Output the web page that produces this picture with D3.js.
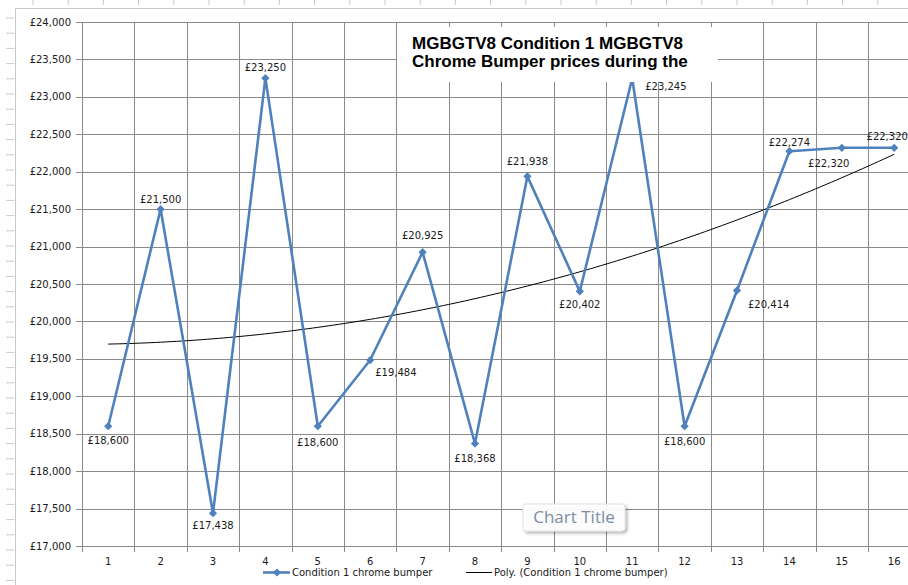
<!DOCTYPE html>
<html lang="en">
  <head>
    <meta charset="UTF-8" />
    <title>MGBGTV8 Chrome Bumper prices</title>
    <script src="https://d3js.org/d3.v7.min.js"></script>
    <style>
      body { margin: 0; background: #fff; }
      .tick-label, .data-label, .legend-text {
        font-family: "DejaVu Sans", Verdana, sans-serif;
        font-size: 10px;
        fill: #1a1a1a;
      }
      .title {
        font-family: "Liberation Sans", Arial, sans-serif;
        font-weight: bold;
        font-size: 17px;
        fill: #000;
      }
      .ghost-title {
        font-family: "Open Sans", "Noto Sans", sans-serif;
        font-size: 17px;
        fill: #7d8ca3;
      }
    </style>
  </head>
  <body>
    <svg width="908" height="585"></svg>
    <script>
      // data
      const categories = d3.range(1, 17);
      const prices = [18600, 21500, 17438, 23250, 18600, 19484, 20925, 18368,
                      21938, 20402, 23245, 18600, 20414, 22274, 22320, 22320];
      const yTicks = d3.range(17000, 24001, 500);
      const seriesName = "Condition 1 chrome bumper";
      const trendName = "Poly. (Condition 1 chrome bumper)";
      const titleLines = ["MGBGTV8 Condition 1 MGBGTV8", "Chrome Bumper prices during the"];

      // where each data label sits relative to its point: [dx, dy, anchor]
      const labelPlace = [
        [0, 18, "middle"], [0, -6, "middle"], [0, 16, "middle"], [0, -7, "middle"],
        [0, 20, "middle"], [5, 16, "start"], [0, -13, "middle"], [0, 18, "middle"],
        [0, -11, "middle"], [0, 17, "middle"], [13, 11, "start"], [0, 19, "middle"],
        [11, 18, "start"], [0, -5, "middle"], [-13, 19, "middle"], [-7, -8, "middle"],
      ];

      const svg = d3.select("svg");
      const fmt = (v) => "£" + d3.format(",")(v);

      const x = d3.scaleBand().domain(categories).range([82, 82 + 16 * 52.4]);
      const y = d3.scaleLinear().domain([17000, 24000]).range([546, 22]);
      const cx = (c) => x(c) + x.bandwidth() / 2;

      // sheet edge remnants (chart area border + row/column markers)
      const sheet = svg.append("g").attr("stroke", "#c8c8c8");
      sheet.append("line").attr("x1", 15).attr("x2", 908).attr("y1", 8.5).attr("y2", 8.5);
      sheet.append("line").attr("x1", 15.5).attr("x2", 15.5).attr("y1", 8).attr("y2", 585);
      sheet.selectAll(".rowmark").data(d3.range(18, 585, 15.2)).join("line")
        .attr("x1", 6).attr("x2", 14).attr("y1", (d) => d).attr("y2", (d) => d);
      sheet.selectAll(".colmark").data(d3.range(33, 908, 35.2)).join("line")
        .attr("x1", (d) => d).attr("x2", (d) => d).attr("y1", 0).attr("y2", 5);

      // gridlines
      const grid = svg.append("g").attr("stroke", "#8a8a8a").attr("stroke-width", 1);
      grid.selectAll(".h").data(yTicks).join("line")
        .attr("x1", 76).attr("x2", 908)
        .attr("y1", (d) => Math.round(y(d)) + 0.5).attr("y2", (d) => Math.round(y(d)) + 0.5);
      const bounds = categories.map((c) => x(c)).concat([x(16) + x.bandwidth()]);
      grid.selectAll(".v").data(bounds).join("line")
        .attr("x1", (d) => Math.round(d) + 0.5).attr("x2", (d) => Math.round(d) + 0.5)
        .attr("y1", y(24000)).attr("y2", 552);

      // axis labels
      svg.append("g").selectAll("text").data(yTicks).join("text")
        .attr("class", "tick-label")
        .attr("x", 71).attr("y", (d) => y(d) + 3.5)
        .attr("text-anchor", "end")
        .text(fmt);
      svg.append("g").selectAll("text").data(categories).join("text")
        .attr("class", "tick-label")
        .attr("x", cx).attr("y", 565)
        .attr("text-anchor", "middle")
        .text((d) => d);

      // polynomial (order 2) trendline by least squares
      const S = (f) => d3.sum(categories, (c, i) => f(c, prices[i]));
      const A = [
        [S((c) => c ** 4), S((c) => c ** 3), S((c) => c ** 2), S((c, v) => v * c * c)],
        [S((c) => c ** 3), S((c) => c ** 2), S((c) => c), S((c, v) => v * c)],
        [S((c) => c ** 2), S((c) => c), categories.length, S((c, v) => v)],
      ];
      for (let i = 0; i < 3; i++) {
        for (let k = i + 1; k < 3; k++) {
          const f = A[k][i] / A[i][i];
          for (let j = i; j < 4; j++) A[k][j] -= f * A[i][j];
        }
      }
      const coef = [0, 0, 0];
      for (let i = 2; i >= 0; i--) {
        let s = A[i][3];
        for (let j = i + 1; j < 3; j++) s -= A[i][j] * coef[j];
        coef[i] = s / A[i][i];
      }
      const trend = (t) => coef[0] * t * t + coef[1] * t + coef[2];
      const xc = d3.scaleLinear().domain([1, 16]).range([cx(1), cx(16)]);

      svg.append("path")
        .datum(d3.range(1, 16.01, 0.1))
        .attr("fill", "none")
        .attr("stroke", "#000")
        .attr("stroke-width", 1)
        .attr("d", d3.line().x((t) => xc(t)).y((t) => y(trend(t))));

      // series line + markers
      svg.append("path")
        .datum(prices)
        .attr("fill", "none")
        .attr("stroke", "#4f81bd")
        .attr("stroke-width", 2.6)
        .attr("stroke-linejoin", "round")
        .attr("d", d3.line().x((d, i) => cx(categories[i])).y((d) => y(d)));

      const diamond = d3.symbol().type(d3.symbolSquare).size(34);
      svg.append("g").selectAll("path").data(prices).join("path")
        .attr("d", diamond)
        .attr("fill", "#4f81bd")
        .attr("transform", (d, i) => `translate(${cx(categories[i])},${y(d)}) rotate(45)`);

      // title box (sits over the plot)
      svg.append("rect")
        .attr("x", 397).attr("y", 27).attr("width", 321).attr("height", 55)
        .attr("fill", "#fff");
      svg.append("g").selectAll("text").data(titleLines).join("text")
        .attr("class", "title")
        .attr("x", 412).attr("y", (d, i) => 49 + i * 18)
        .text((d) => d);

      // data labels
      svg.append("g").selectAll("text").data(prices).join("text")
        .attr("class", "data-label")
        .attr("x", (d, i) => cx(categories[i]) + labelPlace[i][0])
        .attr("y", (d, i) => y(d) + labelPlace[i][1])
        .attr("text-anchor", (d, i) => labelPlace[i][2])
        .text(fmt);

      // "Chart Title" placeholder box
      const defs = svg.append("defs");
      const flt = defs.append("filter").attr("id", "shadow")
        .attr("x", "-20%").attr("y", "-30%").attr("width", "150%").attr("height", "180%");
      flt.append("feDropShadow").attr("dx", 2).attr("dy", 2)
        .attr("stdDeviation", 1.5).attr("flood-color", "#000").attr("flood-opacity", 0.3);
      svg.append("rect")
        .attr("x", 523).attr("y", 504).attr("width", 102).attr("height", 27)
        .attr("rx", 3).attr("fill", "#fff").attr("fill-opacity", 0.92)
        .attr("stroke", "#e2e2e2")
        .attr("filter", "url(#shadow)");
      svg.append("text").attr("class", "ghost-title")
        .attr("x", 574).attr("y", 523).attr("text-anchor", "middle")
        .text("Chart Title");

      // legend
      const legend = svg.append("g");
      legend.append("line").attr("x1", 263).attr("x2", 290).attr("y1", 572.5).attr("y2", 572.5)
        .attr("stroke", "#4f81bd").attr("stroke-width", 2.6);
      legend.append("path").attr("d", diamond).attr("fill", "#4f81bd")
        .attr("transform", "translate(277,572.5) rotate(45)");
      legend.append("text").attr("class", "legend-text").attr("x", 292).attr("y", 576).text(seriesName);
      legend.append("line").attr("x1", 466).attr("x2", 492).attr("y1", 572.5).attr("y2", 572.5)
        .attr("stroke", "#000").attr("stroke-width", 1);
      legend.append("text").attr("class", "legend-text").attr("x", 494).attr("y", 576).text(trendName);
    </script>
  </body>
</html>
